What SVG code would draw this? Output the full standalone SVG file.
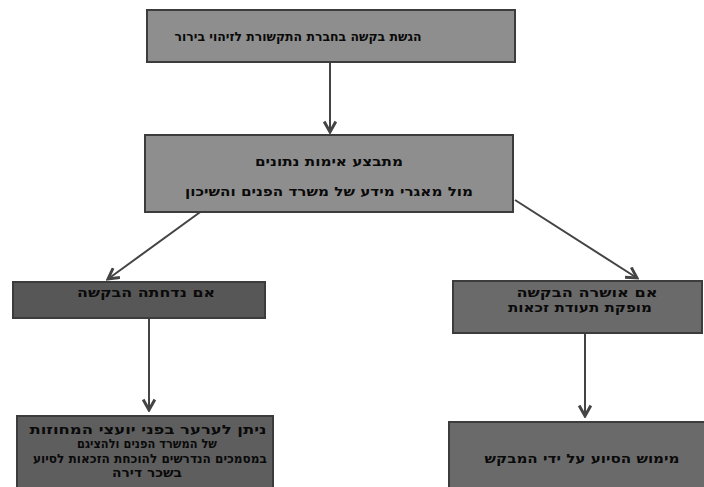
<svg xmlns="http://www.w3.org/2000/svg" width="704" height="487" viewBox="0 0 704 487">
<style>
.box{stroke:#3c3c3c;stroke-width:2}
.t{font-family:"DejaVu Sans","Liberation Sans",sans-serif;font-size:12.5px;font-weight:bold;fill:#0a0a0a;text-anchor:middle}
.c{stroke:#444;stroke-width:2;fill:none;marker-end:url(#ah)}
</style>
<defs>
<marker id="ah" viewBox="0 0 12 12" refX="10" refY="6" markerWidth="7" markerHeight="7" orient="auto" markerUnits="strokeWidth">
<path d="M1,1 L10,6 L1,11" fill="none" stroke="#444" stroke-width="2.5"/>
</marker>
</defs>
<rect width="704" height="487" fill="#ffffff"/>
<g id="connectors">
<line class="c" x1="330" y1="62" x2="330" y2="132"/>
<line class="c" x1="203" y1="210" x2="108" y2="279"/>
<line class="c" x1="515" y1="200" x2="637" y2="278"/>
<line class="c" x1="149" y1="319" x2="149" y2="410"/>
<line class="c" x1="585" y1="334" x2="585" y2="416"/>
</g>
<g id="n1">
<rect class="box" x="147" y="10" width="368" height="52" fill="#8e8e8e"/>
<text class="t" x="298" y="41" direction="rtl" textLength="247" lengthAdjust="spacingAndGlyphs">הגשת בקשה בחברת התקשורת לזיהוי בירור</text>
</g>
<g id="n2">
<rect class="box" x="145" y="135" width="368" height="77" fill="#8e8e8e"/>
<text class="t" x="329" y="166" direction="rtl" textLength="148" lengthAdjust="spacingAndGlyphs">מתבצע אימות נתונים</text>
<text class="t" x="329" y="196" direction="rtl" textLength="288" lengthAdjust="spacingAndGlyphs">מול מאגרי מידע של משרד הפנים והשיכון</text>
</g>
<g id="n3">
<rect class="box" x="13" y="282" width="252" height="36" fill="#575757"/>
<text class="t" x="146" y="297" direction="rtl" textLength="138" lengthAdjust="spacingAndGlyphs">אם נדחתה הבקשה</text>
</g>
<g id="n4">
<rect class="box" x="453" y="281" width="249" height="52" fill="#6a6a6a"/>
<text class="t" x="587" y="297" direction="rtl" textLength="141" lengthAdjust="spacingAndGlyphs">אם אושרה הבקשה</text>
<text class="t" x="580" y="312" direction="rtl" textLength="144" lengthAdjust="spacingAndGlyphs">מופקת תעודת זכאות</text>
</g>
<g id="n5">
<rect class="box" x="17" y="416" width="256" height="72" fill="#5e5e5e"/>
<text class="t" x="148" y="434" direction="rtl" textLength="237" lengthAdjust="spacingAndGlyphs">ניתן לערער בפני יועצי המחוזות</text>
<text class="t" x="147" y="448" direction="rtl" textLength="140" lengthAdjust="spacingAndGlyphs">של המשרד הפנים ולהציגם</text>
<text class="t" x="150" y="463" direction="rtl" textLength="234" lengthAdjust="spacingAndGlyphs">במסמכים הנדרשים להוכחת הזכאות לסיוע</text>
<text class="t" x="147" y="477" direction="rtl" textLength="70" lengthAdjust="spacingAndGlyphs">בשכר דירה</text>
</g>
<g id="n6">
<rect class="box" x="449" y="422" width="256" height="66" fill="#6a6a6a"/>
<text class="t" x="582" y="463" direction="rtl" textLength="195" lengthAdjust="spacingAndGlyphs">מימוש הסיוע על ידי המבקש</text>
</g>
</svg>
